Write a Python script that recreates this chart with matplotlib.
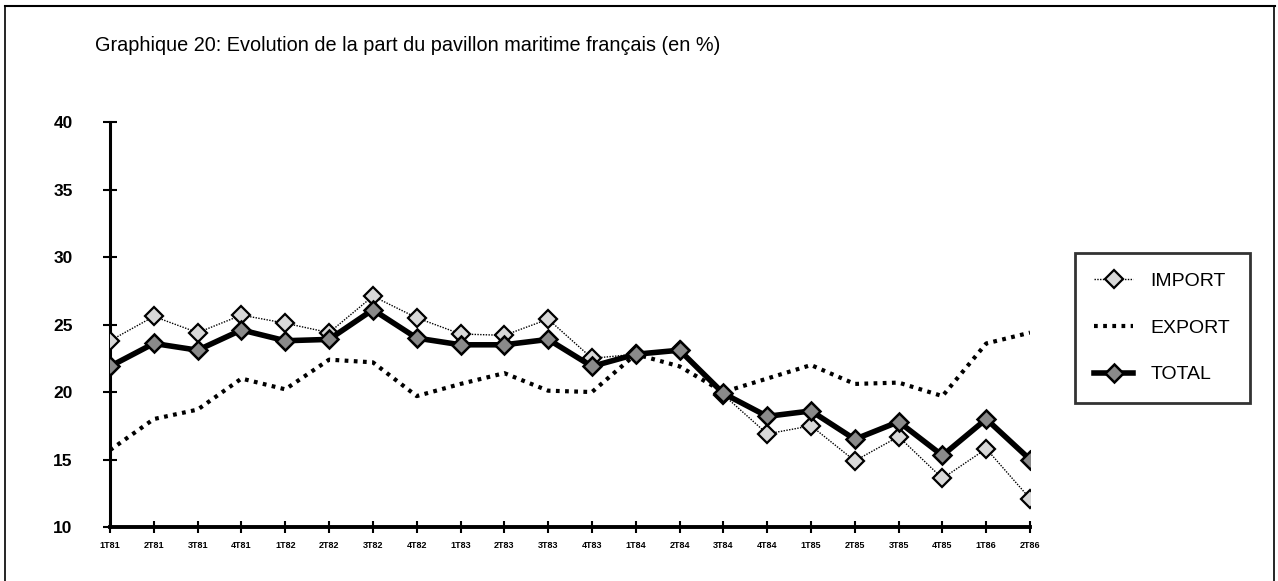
import numpy as np
import matplotlib.pyplot as plt
from matplotlib.lines import Line2D

# Quarterly values (en %)
quarters = ['1T81', '2T81', '3T81', '4T81', '1T82', '2T82', '3T82', '4T82',
            '1T83', '2T83', '3T83', '4T83', '1T84', '2T84', '3T84', '4T84',
            '1T85', '2T85', '3T85', '4T85', '1T86', '2T86']
import_share = [23.8, 25.6, 24.4, 25.7, 25.1, 24.4, 27.1, 25.5, 24.3, 24.2, 25.4, 22.5,
                22.8, 23.1, 19.8, 16.9, 17.5, 14.9, 16.7, 13.6, 15.8, 12.1]
export_share = [15.7, 18.0, 18.7, 21.0, 20.2, 22.4, 22.2, 19.7, 20.6, 21.4, 20.1, 20.0,
                22.8, 21.9, 20.0, 21.0, 22.0, 20.6, 20.7, 19.7, 23.6, 24.4]
total_share = [21.9, 23.6, 23.1, 24.6, 23.8, 23.9, 26.1, 24.0, 23.5, 23.5, 23.9, 21.9,
               22.8, 23.1, 19.9, 18.2, 18.6, 16.5, 17.8, 15.3, 18.0, 15.0]

plt.rcParams['font.family'] = ['Liberation Sans', 'DejaVu Sans']

fig = plt.figure(figsize=(12.78, 5.81), dpi=100)
ax = fig.add_axes([0.0861, 0.0929, 0.7199, 0.697])

x = np.arange(len(quarters))

ax.plot(x, export_share, color='black', linewidth=3.0, linestyle=(0, (0.9, 1.3)),
        label='EXPORT', zorder=2)
ax.plot(x, import_share, color='black', linewidth=1.0, linestyle=(0, (1, 1)),
        marker='D', markersize=9.5, markerfacecolor='#d8d8d8', markeredgecolor='black',
        markeredgewidth=1.6, label='IMPORT', zorder=3)
ax.plot(x, total_share, color='black', linewidth=4, solid_joinstyle='miter',
        marker='D', markersize=9.5, markerfacecolor='#8a8a8a', markeredgecolor='black',
        markeredgewidth=1.8, label='TOTAL', zorder=4)

ax.set_xlim(0, len(quarters) - 1)
ax.set_ylim(10, 40)
ax.set_yticks([10, 15, 20, 25, 30, 35, 40])
ax.set_xticks(x)
ax.set_xticklabels(quarters, fontsize=6.5, fontweight='bold')
ax.set_yticklabels(['10', '15', '20', '25', '30', '35', '40'], fontweight='bold')
ax.tick_params(axis='y', direction='inout', length=10, width=1.5, labelsize=12.5, pad=22)
ax.tick_params(axis='x', direction='inout', length=8, width=1.5, pad=6)

for side in ['top', 'right']:
    ax.spines[side].set_visible(False)
ax.spines['left'].set_linewidth(2.2)
ax.spines['bottom'].set_linewidth(2.8)

fig.text(0.074, 0.922, 'Graphique 20: Evolution de la part du pavillon maritime français (en %)',
         fontsize=14.3, ha='left', va='center')

# outer frame of the scanned page
fig.add_artist(Line2D([0.004, 0.998], [0.99, 0.99], color='black', linewidth=1.5))
fig.add_artist(Line2D([0.004, 0.004], [0.0, 0.99], color='black', linewidth=1.2))
fig.add_artist(Line2D([0.997, 0.997], [0.0, 0.99], color='black', linewidth=1.2))

handles, labels = ax.get_legend_handles_labels()
order = [1, 0, 2]
leg = fig.legend([handles[i] for i in order], [labels[i] for i in order],
                 loc='upper left', bbox_to_anchor=(0.841, 0.565), borderaxespad=0,
                 fontsize=14, frameon=True, fancybox=False, handlelength=2.0,
                 labelspacing=1.5, borderpad=1.0, handletextpad=0.9)
leg.get_frame().set_edgecolor('black')
leg.get_frame().set_linewidth(2)

plt.savefig('out.png', dpi=100)
